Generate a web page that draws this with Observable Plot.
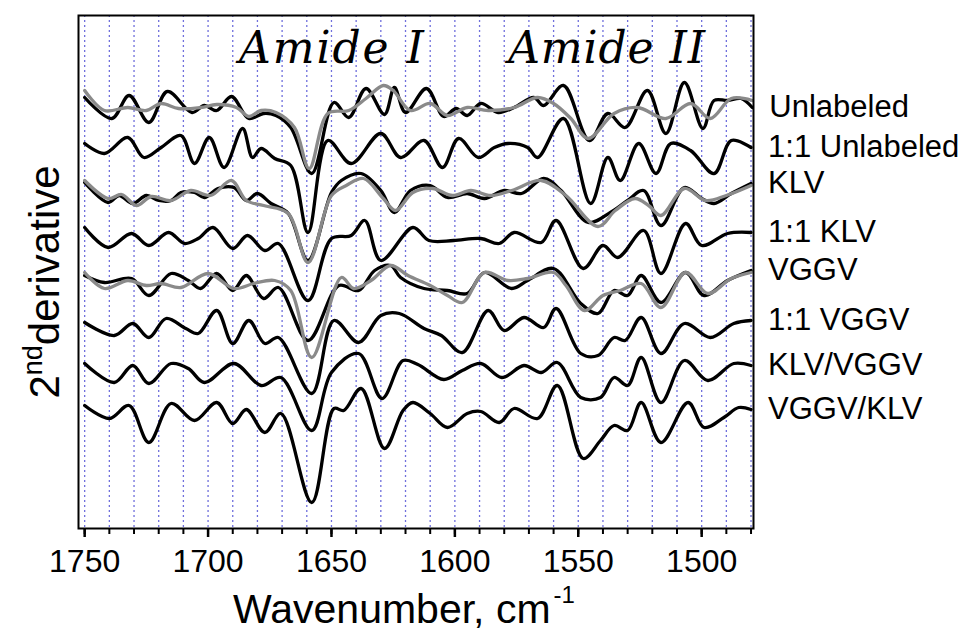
<!DOCTYPE html>
<html><head><meta charset="utf-8">
<script src="https://cdn.jsdelivr.net/npm/d3@7"></script>
<script src="https://cdn.jsdelivr.net/npm/@observablehq/plot@0.6"></script>
<style>body{margin:0;background:#fff;}</style>
</head><body><div id="chart"></div>
<script>
// Wavenumber (cm-1) and 2nd-derivative value (arbitrary, offset units)
const unlabeled = [[1750,43.1],[1739,41.0],[1732,43.3],[1724,40.6],[1716.5,43.7],[1706.5,41.6],[1701.5,42.3],[1696.5,41.8],[1690.5,43.2],[1683.5,41.0],[1677.5,41.5],[1672.5,41.3],[1666.5,40.1],[1658,35.5],[1649,42.6],[1643,41.1],[1636,44.0],[1628.5,41.4],[1624.5,44.1],[1620,41.6],[1611.5,44.0],[1604.5,41.2],[1599.5,42.0],[1595,41.3],[1589.5,42.5],[1582.5,41.6],[1576,42.1],[1568,43.1],[1564,42.3],[1556,44.3],[1545.5,38.8],[1538,41.5],[1531,40.1],[1522,43.8],[1514.5,39.5],[1507,44.6],[1499.5,40.0],[1495,42.8],[1489.5,42.8],[1484,43.0],[1479.5,42.1]];
const unlabeledGray = [[1750,43.8],[1742,41.8],[1732.5,42.1],[1725,41.8],[1719,42.5],[1712,42.0],[1703,42.1],[1696.5,42.4],[1688.5,42.1],[1683.5,41.2],[1678.5,41.8],[1672.5,41.6],[1665,40.1],[1659,36.0],[1651.5,41.5],[1643,41.8],[1636,43.0],[1629,44.3],[1625,43.8],[1618,41.8],[1610,42.5],[1603,41.3],[1595,42.1],[1586.5,41.8],[1576,42.1],[1566.5,43.1],[1560,42.5],[1553,41.0],[1546,39.0],[1535.5,41.5],[1526,42.1],[1514.5,41.0],[1504.5,42.5],[1496.5,41.0],[1488,43.0],[1479.5,42.8]];
const unlabeled11 = [[1750,38.5],[1742,37.5],[1732.5,39.1],[1726,37.1],[1719,38.1],[1711,39.3],[1705.5,36.5],[1699.5,39.1],[1693.5,36.1],[1686,40.0],[1682,37.1],[1678.5,38.0],[1673,37.0],[1666.5,36.3],[1659.5,29.6],[1651.5,38.8],[1642,36.5],[1630,39.5],[1622,37.1],[1612.5,38.8],[1605,36.1],[1598.5,39.0],[1590.5,37.1],[1584,38.1],[1578.5,38.5],[1570.5,38.1],[1566.5,37.1],[1556,41.0],[1545,32.5],[1538,37.1],[1533,34.8],[1525.5,38.5],[1518.5,35.5],[1512.5,38.5],[1504.5,37.8],[1495,35.5],[1488,38.8],[1480,38.1]];
const klv = [[1750,34.6],[1740.5,32.6],[1736,33.3],[1730.5,32.5],[1725,33.3],[1720,32.8],[1715,32.8],[1711,33.6],[1705.5,33.6],[1701.5,33.1],[1696,34.0],[1689.5,34.1],[1684.5,32.8],[1680,33.5],[1674.5,32.5],[1667.5,31.5],[1659.5,26.8],[1650,33.6],[1646,34.8],[1638,35.5],[1630,33.8],[1624.5,31.6],[1618,33.8],[1610,34.3],[1603,33.1],[1595,33.5],[1588,33.0],[1580,33.8],[1573,33.5],[1564,35.0],[1557,33.8],[1546,30.6],[1537,31.6],[1530,32.8],[1523.5,33.8],[1516.5,30.3],[1507,34.1],[1500,33.0],[1495,32.5],[1488,33.5],[1480,34.5]];
const klvGray = [[1750,34.8],[1740.5,33.0],[1735,33.4],[1729,32.3],[1723,33.2],[1715,32.8],[1707,33.8],[1699,33.3],[1690.5,34.8],[1684.5,32.8],[1677.5,32.3],[1667.5,31.5],[1659.5,26.6],[1650,33.3],[1644,34.3],[1637,35.0],[1629,33.0],[1624,31.8],[1617,33.6],[1609,34.0],[1601,33.3],[1593.5,33.8],[1585.5,33.3],[1577,33.8],[1565,34.8],[1555,33.3],[1542,30.2],[1535,31.8],[1527,33.0],[1521.5,32.3],[1516.5,31.3],[1507,34.0],[1498.5,32.8],[1490,33.3],[1480,34.3]];
const klv11 = [[1750,30.1],[1740.5,28.1],[1731,29.5],[1724,28.3],[1716,29.6],[1709.5,28.5],[1704,29.0],[1698,30.1],[1690,28.0],[1684,29.3],[1677,27.8],[1671.5,28.5],[1659.5,22.8],[1650,29.0],[1642,29.3],[1636.5,30.8],[1630,26.8],[1617,30.1],[1610.5,28.8],[1600.5,28.8],[1589.5,29.0],[1582,28.5],[1576,29.6],[1565,28.6],[1559,30.8],[1548,26.0],[1540,28.3],[1534,27.1],[1523.5,29.8],[1516.5,25.5],[1506.5,30.5],[1500,28.3],[1489.5,29.5],[1480,29.6]];
const vggv = [[1750,25.3],[1742,24.6],[1731,25.0],[1724,23.3],[1715,25.5],[1708,24.8],[1703,24.0],[1696.5,25.5],[1690,23.8],[1684.5,25.3],[1677.5,23.0],[1671.5,24.1],[1659.5,18.8],[1647,24.3],[1639,23.8],[1632.5,25.8],[1626,26.3],[1622,25.1],[1612.5,24.0],[1603,23.8],[1595,23.5],[1588,25.6],[1577,24.0],[1570.5,24.8],[1560,26.0],[1549,22.5],[1542,21.5],[1535.5,23.8],[1530,23.3],[1524.5,25.3],[1516.5,22.6],[1506.5,25.6],[1499,23.3],[1489.5,24.8],[1480,25.8]];
const vggvGray = [[1750,25.6],[1742,24.0],[1732.5,24.8],[1725,24.3],[1719,24.5],[1711,24.1],[1700,25.5],[1689.5,24.0],[1681.5,24.5],[1673,24.8],[1666.5,23.8],[1658,17.1],[1646,25.1],[1641,24.0],[1634,24.8],[1626,26.3],[1619,25.3],[1610,24.3],[1603,23.3],[1597,22.6],[1588,25.6],[1578.5,24.8],[1570.5,25.0],[1560,25.6],[1555,24.3],[1547.5,21.8],[1540,23.3],[1533,23.8],[1524.5,24.5],[1516.5,22.1],[1506.5,25.6],[1497.5,23.5],[1488,25.0],[1480,25.6]];
const vggv11 = [[1750,20.6],[1738,19.3],[1730.5,20.5],[1724,19.1],[1717,21.0],[1709,20.0],[1704,19.5],[1696.5,21.8],[1690,18.5],[1683.5,20.8],[1677,18.5],[1671.5,19.1],[1658,13.5],[1649,20.8],[1639,18.6],[1630,21.3],[1622.5,21.5],[1612.5,20.0],[1605.5,19.3],[1597,17.6],[1586.5,21.8],[1580,19.8],[1572,21.1],[1564,20.1],[1559,22.0],[1549,17.5],[1542,17.3],[1535.5,19.1],[1531,18.8],[1524.5,21.1],[1516.5,17.5],[1507,20.5],[1496.5,19.1],[1487,20.5],[1480,20.8]];
const klvVggv = [[1750,16.5],[1738,14.6],[1730.5,16.3],[1724,14.5],[1715,16.5],[1708,16.0],[1701.5,14.6],[1689.5,16.5],[1678.5,14.3],[1670.5,15.1],[1658,9.8],[1650,15.6],[1639,17.5],[1629.5,13.0],[1621,16.8],[1615,16.4],[1604.5,14.9],[1597,15.8],[1589.5,16.5],[1581,15.1],[1572,16.3],[1565,15.6],[1558.5,16.6],[1549,13.1],[1541,13.1],[1535.5,15.1],[1530,14.3],[1524.5,17.1],[1516.5,12.6],[1507,16.8],[1497.5,14.8],[1487,16.5],[1480,16.3]];
const vggvKlv = [[1750,12.3],[1740,11.0],[1732,12.3],[1724,8.6],[1715,12.5],[1705.5,10.8],[1696.5,12.6],[1690,10.5],[1684.5,11.9],[1677,9.6],[1670.5,11.5],[1658,2.6],[1649,12.0],[1645,11.8],[1638,14.0],[1628.5,8.0],[1621,11.8],[1617,12.6],[1610,11.5],[1603,10.1],[1595,11.5],[1589.5,11.7],[1582,10.6],[1576,12.0],[1566.5,11.0],[1558.5,14.3],[1548,7.0],[1541,8.8],[1535.5,10.3],[1530,9.8],[1524.5,12.6],[1516.5,8.6],[1505.5,12.6],[1499,10.1],[1491,11.1],[1485,12.1],[1480,11.9]];

const seriesNames = ["Unlabeled","1:1 Unlabeled","KLV","1:1 KLV","VGGV","1:1 VGGV","KLV/VGGV","VGGV/KLV"];
const blackValues = [unlabeled, unlabeled11, klv, klv11, vggv, vggv11, klvVggv, vggvKlv];
const grayNames = ["Unlabeled","KLV","VGGV"];
const grayValues = [unlabeledGray, klvGray, vggvGray];

const majorTicks = [1750,1700,1650,1600,1550,1500];
const minorTicks = [1750,1740,1730,1720,1710,1700,1690,1680,1670,1660,1650,1640,1630,1620,1610,1600,1590,1580,1570,1560,1550,1540,1530,1520,1510,1500,1490,1480];
const bandLabels = ["Amide I","Amide II"];
const bandCenters = [1650,1538.5];
const bandLevel = [46.6,46.6];

const toRows = (names, values) => names.flatMap((name, i) => values[i].map(([wn, v]) => ({name, wn, v})));
const blackRows = toRows(seriesNames, blackValues);
const grayRows = toRows(grayNames, grayValues);
const bandRows = bandLabels.map((label, i) => ({label, wn: bandCenters[i], v: bandLevel[i]}));

const font = "'Liberation Sans', Arial, sans-serif";
const plot = Plot.plot({
  width: 969, height: 633,
  marginLeft: 78, marginRight: 216, marginTop: 15, marginBottom: 105,
  style: {fontFamily: font, background: "#fff", color: "#000", overflow: "visible"},
  x: {domain: [1752.5, 1479]},
  y: {domain: [0, 51.3], axis: null},
  marks: [
    Plot.ruleX(minorTicks, {stroke: "#6f6fdc", strokeWidth: 1.3, strokeDasharray: "2,3"}),
    Plot.line(blackRows, {x: "wn", y: "v", z: "name", stroke: "#000", strokeWidth: 3.3, curve: "catmull-rom"}),
    Plot.line(grayRows, {x: "wn", y: "v", z: "name", stroke: "#8a8a8a", strokeWidth: 3.3, curve: "catmull-rom"}),
    Plot.text(blackRows, Plot.selectLast({x: "wn", y: "v", z: "name", text: "name", textAnchor: "start", dx: 17, fontSize: 31, fill: "#000"})),
    Plot.text(bandRows, {x: "wn", y: "v", text: "label", lineAnchor: "bottom", fontFamily: "'DejaVu Serif', serif", fontStyle: "italic", fontSize: 44, fill: "#000"}),
    Plot.frame({stroke: "#000", strokeWidth: 2}),
    Plot.axisX(minorTicks, {tickSize: 6, fill: "none", strokeWidth: 2, label: null}),
    Plot.axisX(majorTicks, {tickSize: 9, tickPadding: 12, fontSize: 32, strokeWidth: 2.5, label: null, tickFormat: d => String(d)})
  ]
});
document.getElementById("chart").appendChild(plot);

const svg = d3.select(plot);
const widths = {"Amide I": 185, "Amide II": 197};
svg.selectAll("text").filter(function () { return widths[this.textContent] !== undefined; })
  .attr("textLength", function () { return widths[this.textContent]; })
  .attr("lengthAdjust", "spacing");

const xt = svg.append("text").attr("x", 404).attr("y", 623).attr("text-anchor", "middle")
  .attr("font-size", 41).attr("fill", "#000").attr("font-family", font);
xt.append("tspan").text("Wavenumber, cm");
xt.append("tspan").attr("dx", 3).attr("dy", -20).attr("font-size", 24).text("-1");

const yt = svg.append("text").attr("transform", "translate(59,282) rotate(-90)").attr("text-anchor", "middle")
  .attr("font-size", 42).attr("fill", "#000").attr("font-family", font);
yt.append("tspan").text("2");
yt.append("tspan").attr("dy", -17).attr("font-size", 27).text("nd");
yt.append("tspan").attr("dy", 17).attr("font-size", 42).text("derivative");
</script>
</body></html>
